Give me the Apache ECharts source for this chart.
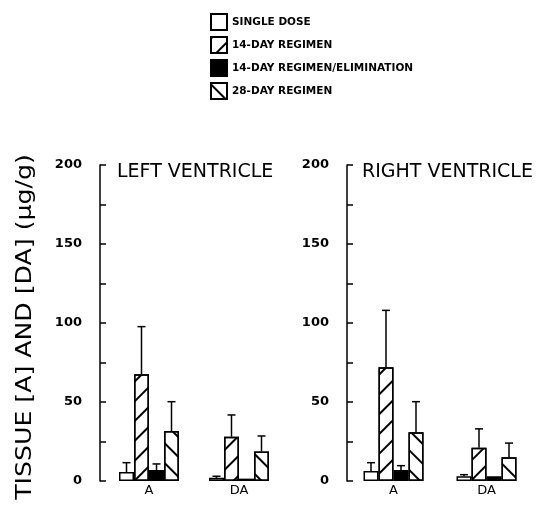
<!DOCTYPE html>
<html>
<head>
<meta charset="utf-8">
<script src="https://cdn.jsdelivr.net/npm/echarts@6/dist/echarts.min.js"></script>
<style>html,body{margin:0;padding:0;background:#fff}#c{width:540px;height:505px}</style>
</head>
<body>
<div id="c"></div>
<script>
// ---- data ----
const categories = ['A', 'DA'];
const seriesNames = ['SINGLE DOSE', '14-DAY REGIMEN', '14-DAY REGIMEN/ELIMINATION', '28-DAY REGIMEN'];
const panelTitles = ['LEFT VENTRICLE', 'RIGHT VENTRICLE'];
const yTitle = 'TISSUE [A] AND [DA] (\u00b5g/g)';
const yTicks = [0, 50, 100, 150, 200];

// Left ventricle: mean values per category [A, DA]
const lvSingle = [5.7, 2.0];
const lv14 = [67.5, 28.0];
const lv14Elim = [7.0, 1.5];
const lv28 = [31.6, 18.6];
// Left ventricle: upper error (SD)
const lvSingleErr = [5.9, 1.0];
const lv14Err = [30.2, 13.8];
const lv14ElimErr = [3.8, 0];
const lv28Err = [18.6, 9.9];

// Right ventricle
const rvSingle = [6.3, 3.0];
const rv14 = [72.0, 21.0];
const rv14Elim = [7.0, 3.0];
const rv28 = [30.8, 15.0];
const rvSingleErr = [5.3, 1.0];
const rv14Err = [36.0, 12.0];
const rv14ElimErr = [2.7, 0];
const rv28Err = [19.4, 9.0];

// ---- chart ----
const BW = 15;
const hatchFwd = {symbol: 'rect', symbolSize: 1, dashArrayX: [1, 0], dashArrayY: [1.6, 12], rotation: -Math.PI / 4, color: '#000'};
const hatchBack = {symbol: 'rect', symbolSize: 1, dashArrayX: [1, 0], dashArrayY: [1.6, 12], rotation: Math.PI / 4, color: '#000'};
const styles = [
  {color: '#fff', borderColor: '#000', borderWidth: 1.5},
  {color: '#fff', borderColor: '#000', borderWidth: 1.5, decal: hatchFwd},
  {color: '#000', borderColor: '#000', borderWidth: 1.5},
  {color: '#fff', borderColor: '#000', borderWidth: 1.5, decal: hatchBack}
];

const panels = [
  {means: [lvSingle, lv14, lv14Elim, lv28], errs: [lvSingleErr, lv14Err, lv14ElimErr, lv28Err]},
  {means: [rvSingle, rv14, rv14Elim, rv28], errs: [rvSingleErr, rv14Err, rv14ElimErr, rv28Err]}
];

const series = [];
panels.forEach((p, gi) => {
  p.means.forEach((vals, si) => {
    series.push({
      type: 'bar', name: seriesNames[si], xAxisIndex: gi, yAxisIndex: gi,
      data: vals, barWidth: BW, barGap: '0%', itemStyle: styles[si],
      emphasis: {disabled: true}, animation: false, z: 2
    });
  });
  const errData = [];
  p.means.forEach((vals, si) => {
    vals.forEach((v, ci) => { if (p.errs[si][ci] > 0) errData.push([ci, si, v, p.errs[si][ci]]); });
  });
  series.push({
    type: 'custom', xAxisIndex: gi, yAxisIndex: gi, data: errData, animation: false, z: 1,
    encode: {x: 0, y: 2},
    renderItem: function (params, api) {
      const ci = api.value(0), si = api.value(1), v = api.value(2), e = api.value(3);
      const base = api.coord([ci, v]);
      const top = api.coord([ci, v + e]);
      const x = base[0] + (si - 1.5) * BW;
      const half = 4;
      return {
        type: 'group',
        children: [
          {type: 'line', shape: {x1: x, y1: base[1], x2: x, y2: top[1]}, style: {stroke: '#000', lineWidth: 1.5}},
          {type: 'line', shape: {x1: x - half, y1: top[1], x2: x + half, y2: top[1]}, style: {stroke: '#000', lineWidth: 1.5}}
        ]
      };
    }
  });
});

const gridTop = 165, gridBottom = 24;
const yAxisBase = {
  type: 'value', min: yTicks[0], max: yTicks[yTicks.length - 1], interval: 50,
  axisLine: {show: true, lineStyle: {color: '#000', width: 1.5}},
  axisTick: {show: true, inside: true, length: 6, lineStyle: {color: '#000', width: 1.5}},
  minorTick: {show: true, splitNumber: 2, length: 6, lineStyle: {color: '#000', width: 1.5}},
  splitLine: {show: false},
  axisLabel: {color: '#000', fontFamily: 'DejaVu Sans', fontWeight: 'bold', fontSize: 13, margin: 18}
};
const xAxisBase = {
  type: 'category', data: categories,
  axisLine: {show: false}, axisTick: {show: false},
  axisLabel: {color: '#000', fontFamily: 'DejaVu Sans', fontSize: 13, margin: 3}
};

const option = {
  animation: false,
  backgroundColor: '#fff',
  legend: {
    data: seriesNames, orient: 'vertical', left: 210, top: 13, padding: 0,
    itemWidth: 16, itemHeight: 16, itemGap: 5, selectedMode: false,
    icon: 'rect',
    textStyle: {color: '#000', fontFamily: 'DejaVu Sans', fontWeight: 'bold', fontSize: 10.5}
  },
  grid: [
    {left: 104, width: 180, top: gridTop, bottom: gridBottom},
    {left: 347, width: 186, top: gridTop, bottom: gridBottom}
  ],
  xAxis: [Object.assign({gridIndex: 0}, xAxisBase), Object.assign({gridIndex: 1}, xAxisBase)],
  yAxis: [Object.assign({gridIndex: 0, offset: 4}, yAxisBase), Object.assign({gridIndex: 1, offset: 0}, yAxisBase)],
  graphic: [
    {type: 'text', left: 117, top: 163, style: {text: panelTitles[0], font: '19px "DejaVu Sans"', fill: '#000'}},
    {type: 'text', left: 362, top: 163, style: {text: panelTitles[1], font: '19px "DejaVu Sans"', fill: '#000'}},
    {type: 'text', x: 26, y: 327, rotation: Math.PI / 2, scaleX: 1.2,
     style: {text: yTitle, font: '21px "DejaVu Sans"', fill: '#000', align: 'center', verticalAlign: 'middle'}}
  ],
  series: series
};

const chart = echarts.init(document.getElementById('c'), null, {renderer: 'canvas'});
chart.setOption(option);
</script>
</body>
</html>
